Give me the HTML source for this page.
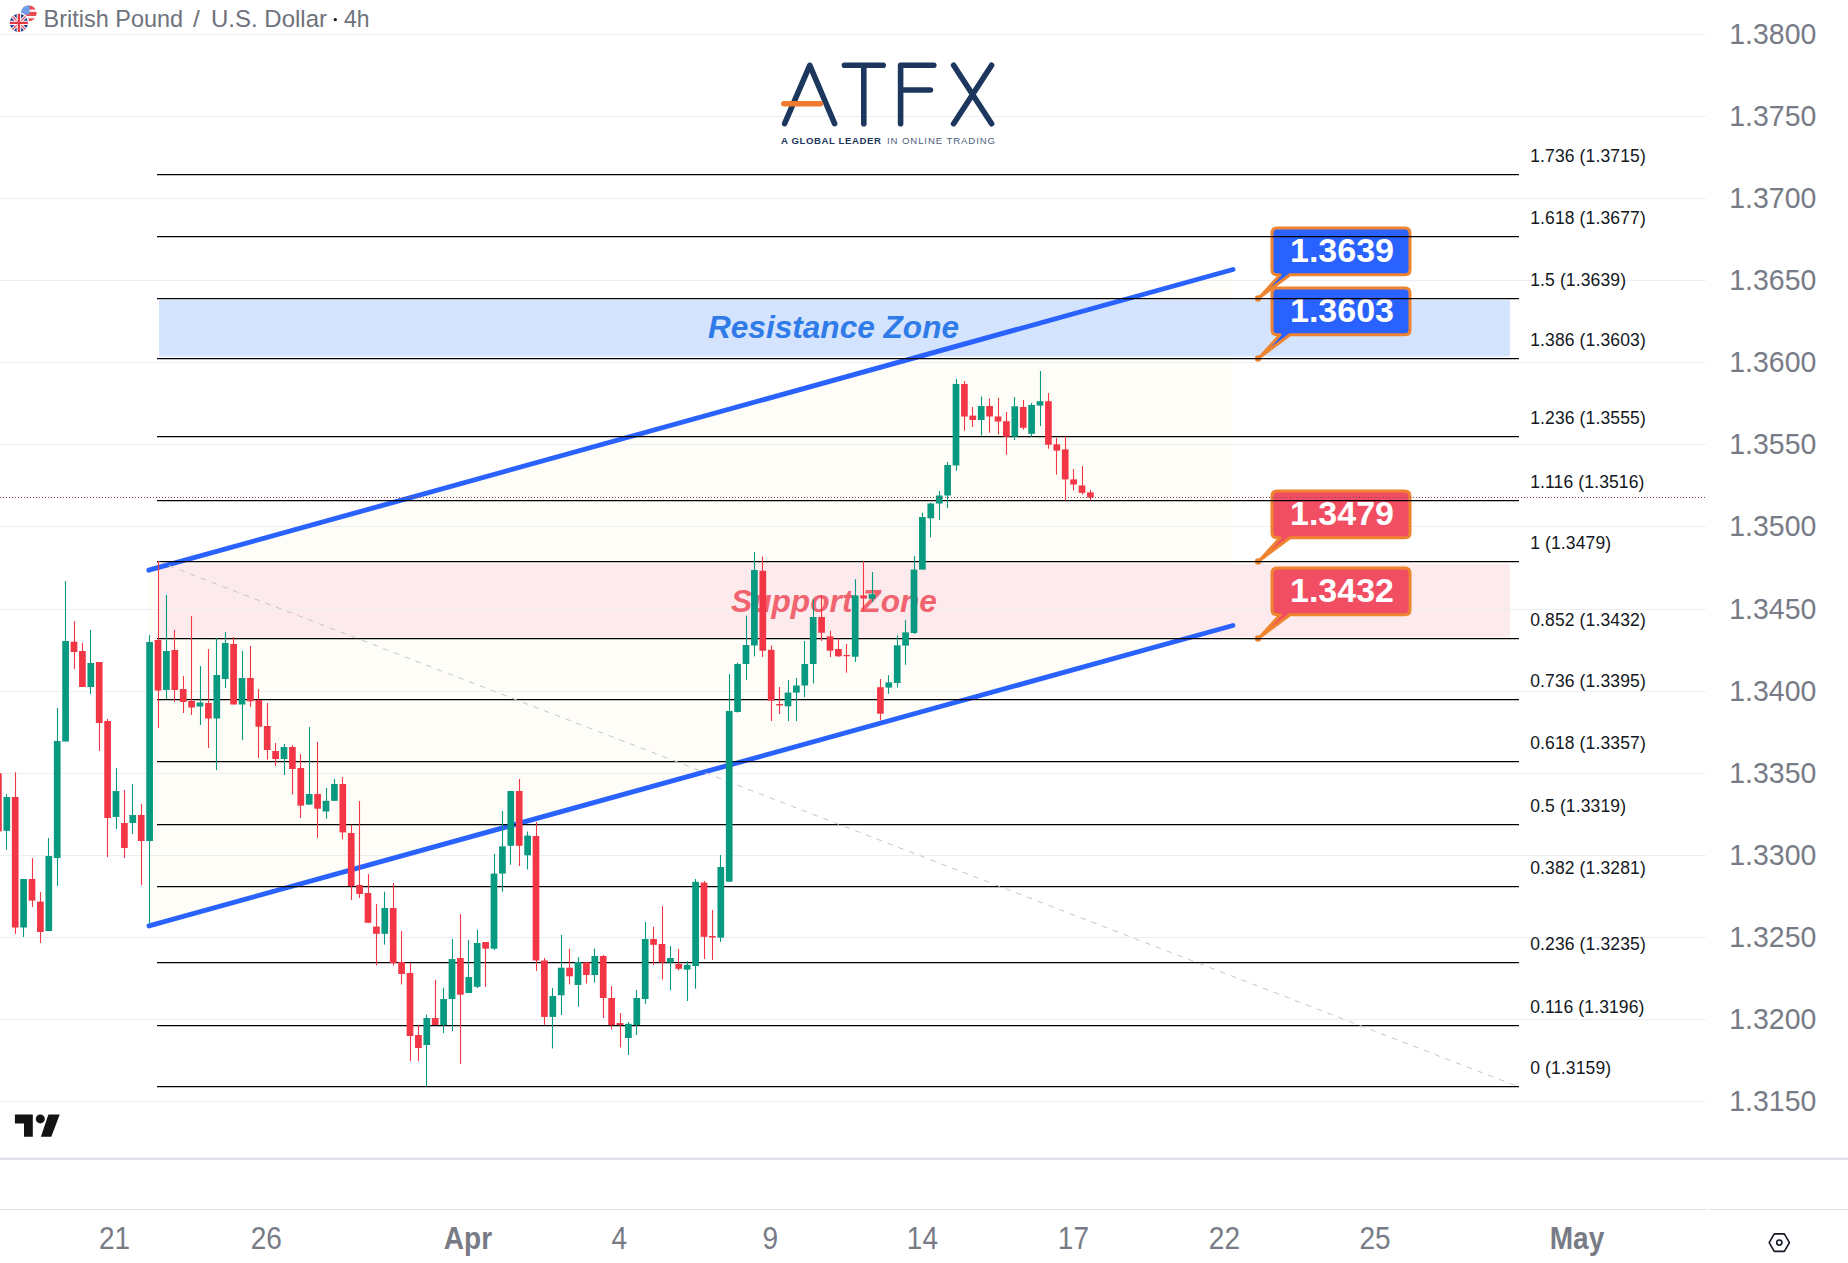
<!DOCTYPE html>
<html><head><meta charset="utf-8"><title>GBPUSD 4h</title>
<style>html,body{margin:0;padding:0;background:#ffffff;}body{width:1848px;height:1263px;overflow:hidden;}svg{display:block;}</style>
</head><body>
<svg width="1848" height="1263" viewBox="0 0 1848 1263">
<rect width="1848" height="1263" fill="#ffffff"/>
<polygon points="148.8,570.2 1232,269.8 1232,625.8 149,925.9" fill="#fffdf7"/>
<rect x="159" y="300" width="1351" height="56.5" fill="#d4e3fe"/>
<rect x="159" y="563.7" width="1351" height="73.6" fill="#fdeaec"/>
<line x1="0" y1="34.5" x2="1706" y2="34.5" stroke="#eceef2" stroke-width="1"/>
<line x1="0" y1="116.5" x2="1706" y2="116.5" stroke="#eceef2" stroke-width="1"/>
<line x1="0" y1="198.5" x2="1706" y2="198.5" stroke="#eceef2" stroke-width="1"/>
<line x1="0" y1="280.5" x2="1706" y2="280.5" stroke="#eceef2" stroke-width="1"/>
<line x1="0" y1="362.5" x2="1706" y2="362.5" stroke="#eceef2" stroke-width="1"/>
<line x1="0" y1="444.5" x2="1706" y2="444.5" stroke="#eceef2" stroke-width="1"/>
<line x1="0" y1="526.5" x2="1706" y2="526.5" stroke="#eceef2" stroke-width="1"/>
<line x1="0" y1="609.5" x2="1706" y2="609.5" stroke="#eceef2" stroke-width="1"/>
<line x1="0" y1="691.5" x2="1706" y2="691.5" stroke="#eceef2" stroke-width="1"/>
<line x1="0" y1="773.5" x2="1706" y2="773.5" stroke="#eceef2" stroke-width="1"/>
<line x1="0" y1="855.5" x2="1706" y2="855.5" stroke="#eceef2" stroke-width="1"/>
<line x1="0" y1="937.5" x2="1706" y2="937.5" stroke="#eceef2" stroke-width="1"/>
<line x1="0" y1="1019.5" x2="1706" y2="1019.5" stroke="#eceef2" stroke-width="1"/>
<line x1="0" y1="1101.5" x2="1706" y2="1101.5" stroke="#eceef2" stroke-width="1"/>
<text x="708" y="337.5" font-family='"Liberation Sans", sans-serif' font-weight="bold" font-style="italic" font-size="32" fill="#2f7be8" textLength="251" lengthAdjust="spacingAndGlyphs">Resistance Zone</text>
<text x="731" y="611.5" font-family='"Liberation Sans", sans-serif' font-weight="bold" font-style="italic" font-size="32" fill="#f0646f" textLength="206" lengthAdjust="spacingAndGlyphs">Support Zone</text>
<path d="M1277,228.0 H1405 Q1410,228.0 1410,233.0 V269.8 Q1410,274.8 1405,274.8 H1290 L1259.5,297.5 L1280,274.8 H1277 Q1272,274.8 1272,269.8 V233.0 Q1272,228.0 1277,228.0 Z" fill="#2962ff" stroke="#ef8430" stroke-width="3" stroke-linejoin="round"/>
<circle cx="1258" cy="298.5" r="3.2" fill="#ef8430"/>
<text x="1342" y="261.6" text-anchor="middle" font-family='"Liberation Sans", sans-serif' font-weight="bold" font-size="33" fill="#ffffff" textLength="104" lengthAdjust="spacingAndGlyphs">1.3639</text>
<path d="M1277,288.0 H1405 Q1410,288.0 1410,293.0 V329.8 Q1410,334.8 1405,334.8 H1290 L1259.5,357.5 L1280,334.8 H1277 Q1272,334.8 1272,329.8 V293.0 Q1272,288.0 1277,288.0 Z" fill="#2962ff" stroke="#ef8430" stroke-width="3" stroke-linejoin="round"/>
<circle cx="1258" cy="358.5" r="3.2" fill="#ef8430"/>
<text x="1342" y="321.6" text-anchor="middle" font-family='"Liberation Sans", sans-serif' font-weight="bold" font-size="33" fill="#ffffff" textLength="104" lengthAdjust="spacingAndGlyphs">1.3603</text>
<path d="M1277,491.0 H1405 Q1410,491.0 1410,496.0 V532.8 Q1410,537.8 1405,537.8 H1290 L1259.5,560.5 L1280,537.8 H1277 Q1272,537.8 1272,532.8 V496.0 Q1272,491.0 1277,491.0 Z" fill="#f24e63" stroke="#ef8430" stroke-width="3" stroke-linejoin="round"/>
<circle cx="1258" cy="561.5" r="3.2" fill="#ef8430"/>
<text x="1342" y="524.6" text-anchor="middle" font-family='"Liberation Sans", sans-serif' font-weight="bold" font-size="33" fill="#ffffff" textLength="104" lengthAdjust="spacingAndGlyphs">1.3479</text>
<path d="M1277,568.0 H1405 Q1410,568.0 1410,573.0 V609.8 Q1410,614.8 1405,614.8 H1290 L1259.5,637.5 L1280,614.8 H1277 Q1272,614.8 1272,609.8 V573.0 Q1272,568.0 1277,568.0 Z" fill="#f24e63" stroke="#ef8430" stroke-width="3" stroke-linejoin="round"/>
<circle cx="1258" cy="638.5" r="3.2" fill="#ef8430"/>
<text x="1342" y="601.6" text-anchor="middle" font-family='"Liberation Sans", sans-serif' font-weight="bold" font-size="33" fill="#ffffff" textLength="104" lengthAdjust="spacingAndGlyphs">1.3432</text>
<line x1="148.8" y1="570.2" x2="1233" y2="269.5" stroke="#2962ff" stroke-width="4.9" stroke-linecap="round"/>
<line x1="149" y1="925.9" x2="1232.9" y2="625.5" stroke="#2962ff" stroke-width="4.9" stroke-linecap="round"/>
<line x1="157" y1="1086.5" x2="1519" y2="1086.5" stroke="#000000" stroke-width="1.25"/>
<line x1="157" y1="1025.5" x2="1519" y2="1025.5" stroke="#000000" stroke-width="1.25"/>
<line x1="157" y1="962.5" x2="1519" y2="962.5" stroke="#000000" stroke-width="1.25"/>
<line x1="157" y1="886.5" x2="1519" y2="886.5" stroke="#000000" stroke-width="1.25"/>
<line x1="157" y1="824.5" x2="1519" y2="824.5" stroke="#000000" stroke-width="1.25"/>
<line x1="157" y1="761.5" x2="1519" y2="761.5" stroke="#000000" stroke-width="1.25"/>
<line x1="157" y1="699.5" x2="1519" y2="699.5" stroke="#000000" stroke-width="1.25"/>
<line x1="157" y1="638.5" x2="1519" y2="638.5" stroke="#000000" stroke-width="1.25"/>
<line x1="157" y1="561.5" x2="1519" y2="561.5" stroke="#000000" stroke-width="1.25"/>
<line x1="157" y1="500.5" x2="1519" y2="500.5" stroke="#000000" stroke-width="1.25"/>
<line x1="157" y1="436.5" x2="1519" y2="436.5" stroke="#000000" stroke-width="1.25"/>
<line x1="157" y1="358.5" x2="1519" y2="358.5" stroke="#000000" stroke-width="1.25"/>
<line x1="157" y1="298.5" x2="1519" y2="298.5" stroke="#000000" stroke-width="1.25"/>
<line x1="157" y1="236.5" x2="1519" y2="236.5" stroke="#000000" stroke-width="1.25"/>
<line x1="157" y1="174.5" x2="1519" y2="174.5" stroke="#000000" stroke-width="1.25"/>
<line x1="158" y1="561.5" x2="1518" y2="1086.5" stroke="#c6c6c8" stroke-width="1" stroke-dasharray="5.5 6"/>
<line x1="-1.50" y1="770.0" x2="-1.50" y2="840.0" stroke="#f23645" stroke-width="1.1"/>
<rect x="-4.95" y="773.3" width="6.7" height="58.2" fill="#f23645"/>
<line x1="6.50" y1="794.2" x2="6.50" y2="849.8" stroke="#089981" stroke-width="1.1"/>
<rect x="3.45" y="797.0" width="6.7" height="33.8" fill="#089981"/>
<line x1="15.50" y1="772.3" x2="15.50" y2="934.0" stroke="#f23645" stroke-width="1.1"/>
<rect x="11.85" y="797.0" width="6.7" height="130.5" fill="#f23645"/>
<line x1="23.50" y1="879.0" x2="23.50" y2="937.0" stroke="#089981" stroke-width="1.1"/>
<rect x="20.25" y="879.0" width="6.7" height="48.5" fill="#089981"/>
<line x1="32.50" y1="858.0" x2="32.50" y2="907.0" stroke="#f23645" stroke-width="1.1"/>
<rect x="28.65" y="879.0" width="6.7" height="21.6" fill="#f23645"/>
<line x1="40.50" y1="892.0" x2="40.50" y2="943.0" stroke="#f23645" stroke-width="1.1"/>
<rect x="37.05" y="901.6" width="6.7" height="30.4" fill="#f23645"/>
<line x1="48.50" y1="838.0" x2="48.50" y2="931.0" stroke="#089981" stroke-width="1.1"/>
<rect x="45.45" y="856.0" width="6.7" height="75.0" fill="#089981"/>
<line x1="57.50" y1="708.0" x2="57.50" y2="886.0" stroke="#089981" stroke-width="1.1"/>
<rect x="53.85" y="741.0" width="6.7" height="117.0" fill="#089981"/>
<line x1="65.50" y1="581.0" x2="65.50" y2="741.5" stroke="#089981" stroke-width="1.1"/>
<rect x="62.25" y="641.0" width="6.7" height="100.5" fill="#089981"/>
<line x1="74.50" y1="621.0" x2="74.50" y2="669.0" stroke="#f23645" stroke-width="1.1"/>
<rect x="70.65" y="641.7" width="6.7" height="10.3" fill="#f23645"/>
<line x1="82.50" y1="643.0" x2="82.50" y2="687.0" stroke="#f23645" stroke-width="1.1"/>
<rect x="79.05" y="651.0" width="6.7" height="36.0" fill="#f23645"/>
<line x1="90.50" y1="630.0" x2="90.50" y2="694.0" stroke="#089981" stroke-width="1.1"/>
<rect x="87.45" y="663.0" width="6.7" height="24.0" fill="#089981"/>
<line x1="99.50" y1="662.0" x2="99.50" y2="751.0" stroke="#f23645" stroke-width="1.1"/>
<rect x="95.85" y="662.0" width="6.7" height="61.0" fill="#f23645"/>
<line x1="107.50" y1="719.0" x2="107.50" y2="857.0" stroke="#f23645" stroke-width="1.1"/>
<rect x="104.25" y="721.0" width="6.7" height="97.0" fill="#f23645"/>
<line x1="116.50" y1="768.0" x2="116.50" y2="829.0" stroke="#089981" stroke-width="1.1"/>
<rect x="112.65" y="791.0" width="6.7" height="26.0" fill="#089981"/>
<line x1="124.50" y1="790.0" x2="124.50" y2="858.0" stroke="#f23645" stroke-width="1.1"/>
<rect x="121.05" y="823.0" width="6.7" height="25.0" fill="#f23645"/>
<line x1="132.50" y1="784.0" x2="132.50" y2="834.0" stroke="#089981" stroke-width="1.1"/>
<rect x="129.45" y="815.0" width="6.7" height="8.0" fill="#089981"/>
<line x1="141.50" y1="804.0" x2="141.50" y2="885.0" stroke="#f23645" stroke-width="1.1"/>
<rect x="137.85" y="815.0" width="6.7" height="26.0" fill="#f23645"/>
<line x1="149.50" y1="635.0" x2="149.50" y2="924.0" stroke="#089981" stroke-width="1.1"/>
<rect x="146.25" y="642.0" width="6.7" height="199.0" fill="#089981"/>
<line x1="158.50" y1="561.0" x2="158.50" y2="728.0" stroke="#f23645" stroke-width="1.1"/>
<rect x="154.65" y="640.0" width="6.7" height="50.5" fill="#f23645"/>
<line x1="166.50" y1="595.0" x2="166.50" y2="699.0" stroke="#089981" stroke-width="1.1"/>
<rect x="163.05" y="651.0" width="6.7" height="39.0" fill="#089981"/>
<line x1="174.50" y1="630.0" x2="174.50" y2="702.0" stroke="#f23645" stroke-width="1.1"/>
<rect x="171.45" y="650.0" width="6.7" height="40.0" fill="#f23645"/>
<line x1="183.50" y1="676.0" x2="183.50" y2="713.0" stroke="#f23645" stroke-width="1.1"/>
<rect x="179.85" y="689.0" width="6.7" height="13.0" fill="#f23645"/>
<line x1="191.50" y1="616.0" x2="191.50" y2="715.0" stroke="#f23645" stroke-width="1.1"/>
<rect x="188.25" y="701.0" width="6.7" height="6.5" fill="#f23645"/>
<line x1="200.50" y1="666.0" x2="200.50" y2="725.0" stroke="#089981" stroke-width="1.1"/>
<rect x="196.65" y="702.5" width="6.7" height="4.0" fill="#089981"/>
<line x1="208.50" y1="649.0" x2="208.50" y2="748.0" stroke="#f23645" stroke-width="1.1"/>
<rect x="205.05" y="703.0" width="6.7" height="15.5" fill="#f23645"/>
<line x1="216.50" y1="638.0" x2="216.50" y2="770.0" stroke="#089981" stroke-width="1.1"/>
<rect x="213.45" y="675.0" width="6.7" height="43.5" fill="#089981"/>
<line x1="225.50" y1="632.0" x2="225.50" y2="688.0" stroke="#089981" stroke-width="1.1"/>
<rect x="221.85" y="643.0" width="6.7" height="36.0" fill="#089981"/>
<line x1="233.50" y1="637.0" x2="233.50" y2="704.5" stroke="#f23645" stroke-width="1.1"/>
<rect x="230.25" y="644.0" width="6.7" height="60.5" fill="#f23645"/>
<line x1="242.50" y1="651.0" x2="242.50" y2="740.0" stroke="#089981" stroke-width="1.1"/>
<rect x="238.65" y="678.0" width="6.7" height="26.5" fill="#089981"/>
<line x1="250.50" y1="646.0" x2="250.50" y2="707.0" stroke="#f23645" stroke-width="1.1"/>
<rect x="247.05" y="678.0" width="6.7" height="23.3" fill="#f23645"/>
<line x1="258.50" y1="689.0" x2="258.50" y2="758.0" stroke="#f23645" stroke-width="1.1"/>
<rect x="255.45" y="700.0" width="6.7" height="26.7" fill="#f23645"/>
<line x1="267.50" y1="703.0" x2="267.50" y2="759.6" stroke="#f23645" stroke-width="1.1"/>
<rect x="263.85" y="726.0" width="6.7" height="24.0" fill="#f23645"/>
<line x1="275.50" y1="743.0" x2="275.50" y2="766.0" stroke="#f23645" stroke-width="1.1"/>
<rect x="272.25" y="751.0" width="6.7" height="8.0" fill="#f23645"/>
<line x1="284.50" y1="744.0" x2="284.50" y2="775.0" stroke="#089981" stroke-width="1.1"/>
<rect x="280.65" y="747.0" width="6.7" height="12.0" fill="#089981"/>
<line x1="292.50" y1="745.0" x2="292.50" y2="794.5" stroke="#f23645" stroke-width="1.1"/>
<rect x="289.05" y="747.0" width="6.7" height="22.0" fill="#f23645"/>
<line x1="300.50" y1="754.0" x2="300.50" y2="818.0" stroke="#f23645" stroke-width="1.1"/>
<rect x="297.45" y="768.0" width="6.7" height="37.6" fill="#f23645"/>
<line x1="309.50" y1="727.0" x2="309.50" y2="804.6" stroke="#089981" stroke-width="1.1"/>
<rect x="305.85" y="794.0" width="6.7" height="10.6" fill="#089981"/>
<line x1="317.50" y1="741.8" x2="317.50" y2="837.8" stroke="#f23645" stroke-width="1.1"/>
<rect x="314.25" y="794.0" width="6.7" height="14.7" fill="#f23645"/>
<line x1="326.50" y1="788.0" x2="326.50" y2="818.8" stroke="#089981" stroke-width="1.1"/>
<rect x="322.65" y="800.8" width="6.7" height="10.7" fill="#089981"/>
<line x1="334.50" y1="779.0" x2="334.50" y2="801.0" stroke="#089981" stroke-width="1.1"/>
<rect x="331.05" y="784.0" width="6.7" height="16.8" fill="#089981"/>
<line x1="342.50" y1="777.0" x2="342.50" y2="839.4" stroke="#f23645" stroke-width="1.1"/>
<rect x="339.45" y="784.0" width="6.7" height="48.4" fill="#f23645"/>
<line x1="351.50" y1="825.0" x2="351.50" y2="900.0" stroke="#f23645" stroke-width="1.1"/>
<rect x="347.85" y="833.0" width="6.7" height="53.0" fill="#f23645"/>
<line x1="359.50" y1="801.0" x2="359.50" y2="898.0" stroke="#f23645" stroke-width="1.1"/>
<rect x="356.25" y="885.0" width="6.7" height="9.0" fill="#f23645"/>
<line x1="368.50" y1="874.0" x2="368.50" y2="922.8" stroke="#f23645" stroke-width="1.1"/>
<rect x="364.65" y="893.0" width="6.7" height="29.8" fill="#f23645"/>
<line x1="376.50" y1="904.0" x2="376.50" y2="965.5" stroke="#f23645" stroke-width="1.1"/>
<rect x="373.05" y="926.6" width="6.7" height="7.2" fill="#f23645"/>
<line x1="384.50" y1="891.7" x2="384.50" y2="944.6" stroke="#089981" stroke-width="1.1"/>
<rect x="381.45" y="908.0" width="6.7" height="25.8" fill="#089981"/>
<line x1="393.50" y1="883.0" x2="393.50" y2="965.5" stroke="#f23645" stroke-width="1.1"/>
<rect x="389.85" y="908.0" width="6.7" height="55.0" fill="#f23645"/>
<line x1="401.50" y1="931.0" x2="401.50" y2="984.5" stroke="#f23645" stroke-width="1.1"/>
<rect x="398.25" y="962.0" width="6.7" height="12.0" fill="#f23645"/>
<line x1="410.50" y1="963.0" x2="410.50" y2="1061.0" stroke="#f23645" stroke-width="1.1"/>
<rect x="406.65" y="973.0" width="6.7" height="63.0" fill="#f23645"/>
<line x1="418.50" y1="1025.0" x2="418.50" y2="1061.0" stroke="#f23645" stroke-width="1.1"/>
<rect x="415.05" y="1035.0" width="6.7" height="13.0" fill="#f23645"/>
<line x1="426.50" y1="1014.6" x2="426.50" y2="1086.6" stroke="#089981" stroke-width="1.1"/>
<rect x="423.45" y="1018.0" width="6.7" height="27.0" fill="#089981"/>
<line x1="435.50" y1="980.0" x2="435.50" y2="1025.0" stroke="#f23645" stroke-width="1.1"/>
<rect x="431.85" y="1018.0" width="6.7" height="7.0" fill="#f23645"/>
<line x1="443.50" y1="987.7" x2="443.50" y2="1033.0" stroke="#089981" stroke-width="1.1"/>
<rect x="440.25" y="999.0" width="6.7" height="26.0" fill="#089981"/>
<line x1="452.50" y1="939.0" x2="452.50" y2="1031.0" stroke="#089981" stroke-width="1.1"/>
<rect x="448.65" y="959.0" width="6.7" height="40.0" fill="#089981"/>
<line x1="460.50" y1="914.0" x2="460.50" y2="1064.0" stroke="#f23645" stroke-width="1.1"/>
<rect x="457.05" y="958.0" width="6.7" height="36.7" fill="#f23645"/>
<line x1="468.50" y1="940.0" x2="468.50" y2="993.0" stroke="#089981" stroke-width="1.1"/>
<rect x="465.45" y="977.0" width="6.7" height="16.0" fill="#089981"/>
<line x1="477.50" y1="929.7" x2="477.50" y2="988.0" stroke="#089981" stroke-width="1.1"/>
<rect x="473.85" y="943.0" width="6.7" height="43.8" fill="#089981"/>
<line x1="485.50" y1="942.0" x2="485.50" y2="986.8" stroke="#f23645" stroke-width="1.1"/>
<rect x="482.25" y="942.0" width="6.7" height="6.7" fill="#f23645"/>
<line x1="494.50" y1="853.7" x2="494.50" y2="950.0" stroke="#089981" stroke-width="1.1"/>
<rect x="490.65" y="873.6" width="6.7" height="75.1" fill="#089981"/>
<line x1="502.50" y1="811.0" x2="502.50" y2="891.7" stroke="#089981" stroke-width="1.1"/>
<rect x="499.05" y="846.4" width="6.7" height="27.2" fill="#089981"/>
<line x1="510.50" y1="791.0" x2="510.50" y2="864.8" stroke="#089981" stroke-width="1.1"/>
<rect x="507.45" y="791.0" width="6.7" height="54.8" fill="#089981"/>
<line x1="519.50" y1="779.0" x2="519.50" y2="866.0" stroke="#f23645" stroke-width="1.1"/>
<rect x="515.85" y="791.0" width="6.7" height="54.8" fill="#f23645"/>
<line x1="527.50" y1="831.5" x2="527.50" y2="869.5" stroke="#089981" stroke-width="1.1"/>
<rect x="524.25" y="835.6" width="6.7" height="19.7" fill="#089981"/>
<line x1="536.50" y1="822.0" x2="536.50" y2="971.0" stroke="#f23645" stroke-width="1.1"/>
<rect x="532.65" y="836.0" width="6.7" height="124.5" fill="#f23645"/>
<line x1="544.50" y1="958.0" x2="544.50" y2="1024.8" stroke="#f23645" stroke-width="1.1"/>
<rect x="541.05" y="960.5" width="6.7" height="56.4" fill="#f23645"/>
<line x1="552.50" y1="988.0" x2="552.50" y2="1048.5" stroke="#089981" stroke-width="1.1"/>
<rect x="549.45" y="996.0" width="6.7" height="20.9" fill="#089981"/>
<line x1="561.50" y1="935.0" x2="561.50" y2="1015.0" stroke="#089981" stroke-width="1.1"/>
<rect x="557.85" y="967.7" width="6.7" height="27.6" fill="#089981"/>
<line x1="569.50" y1="948.7" x2="569.50" y2="984.5" stroke="#f23645" stroke-width="1.1"/>
<rect x="566.25" y="967.7" width="6.7" height="8.6" fill="#f23645"/>
<line x1="578.50" y1="957.0" x2="578.50" y2="1006.7" stroke="#089981" stroke-width="1.1"/>
<rect x="574.65" y="962.0" width="6.7" height="23.0" fill="#089981"/>
<line x1="586.50" y1="962.0" x2="586.50" y2="983.6" stroke="#f23645" stroke-width="1.1"/>
<rect x="583.05" y="962.4" width="6.7" height="12.6" fill="#f23645"/>
<line x1="594.50" y1="948.7" x2="594.50" y2="982.6" stroke="#089981" stroke-width="1.1"/>
<rect x="591.45" y="956.0" width="6.7" height="19.0" fill="#089981"/>
<line x1="603.50" y1="955.0" x2="603.50" y2="1018.0" stroke="#f23645" stroke-width="1.1"/>
<rect x="599.85" y="956.0" width="6.7" height="42.0" fill="#f23645"/>
<line x1="611.50" y1="986.0" x2="611.50" y2="1029.5" stroke="#f23645" stroke-width="1.1"/>
<rect x="608.25" y="998.0" width="6.7" height="27.0" fill="#f23645"/>
<line x1="620.50" y1="1013.0" x2="620.50" y2="1047.5" stroke="#f23645" stroke-width="1.1"/>
<rect x="616.65" y="1023.0" width="6.7" height="2.0" fill="#f23645"/>
<line x1="628.50" y1="1022.0" x2="628.50" y2="1055.0" stroke="#089981" stroke-width="1.1"/>
<rect x="625.05" y="1023.8" width="6.7" height="14.2" fill="#089981"/>
<line x1="636.50" y1="990.0" x2="636.50" y2="1035.0" stroke="#089981" stroke-width="1.1"/>
<rect x="633.45" y="998.0" width="6.7" height="27.0" fill="#089981"/>
<line x1="645.50" y1="922.0" x2="645.50" y2="1003.8" stroke="#089981" stroke-width="1.1"/>
<rect x="641.85" y="939.0" width="6.7" height="60.0" fill="#089981"/>
<line x1="653.50" y1="926.8" x2="653.50" y2="965.0" stroke="#f23645" stroke-width="1.1"/>
<rect x="650.25" y="939.0" width="6.7" height="5.8" fill="#f23645"/>
<line x1="662.50" y1="906.0" x2="662.50" y2="979.6" stroke="#f23645" stroke-width="1.1"/>
<rect x="658.65" y="944.0" width="6.7" height="18.5" fill="#f23645"/>
<line x1="670.50" y1="946.0" x2="670.50" y2="990.4" stroke="#089981" stroke-width="1.1"/>
<rect x="667.05" y="958.0" width="6.7" height="4.5" fill="#089981"/>
<line x1="678.50" y1="948.8" x2="678.50" y2="970.5" stroke="#f23645" stroke-width="1.1"/>
<rect x="675.45" y="964.0" width="6.7" height="4.8" fill="#f23645"/>
<line x1="687.50" y1="961.0" x2="687.50" y2="1001.0" stroke="#089981" stroke-width="1.1"/>
<rect x="683.85" y="964.8" width="6.7" height="4.8" fill="#089981"/>
<line x1="695.50" y1="879.0" x2="695.50" y2="988.7" stroke="#089981" stroke-width="1.1"/>
<rect x="692.25" y="881.8" width="6.7" height="84.2" fill="#089981"/>
<line x1="704.50" y1="881.0" x2="704.50" y2="959.0" stroke="#f23645" stroke-width="1.1"/>
<rect x="700.65" y="882.6" width="6.7" height="54.2" fill="#f23645"/>
<line x1="712.50" y1="910.0" x2="712.50" y2="960.0" stroke="#f23645" stroke-width="1.1"/>
<rect x="709.05" y="936.0" width="6.7" height="1.5" fill="#f23645"/>
<line x1="720.50" y1="855.0" x2="720.50" y2="942.0" stroke="#089981" stroke-width="1.1"/>
<rect x="717.45" y="867.0" width="6.7" height="70.7" fill="#089981"/>
<line x1="729.50" y1="674.0" x2="729.50" y2="881.7" stroke="#089981" stroke-width="1.1"/>
<rect x="725.85" y="711.0" width="6.7" height="170.7" fill="#089981"/>
<line x1="737.50" y1="662.6" x2="737.50" y2="712.6" stroke="#089981" stroke-width="1.1"/>
<rect x="734.25" y="664.0" width="6.7" height="48.0" fill="#089981"/>
<line x1="746.50" y1="615.6" x2="746.50" y2="679.8" stroke="#089981" stroke-width="1.1"/>
<rect x="742.65" y="645.0" width="6.7" height="19.0" fill="#089981"/>
<line x1="754.50" y1="552.0" x2="754.50" y2="656.4" stroke="#089981" stroke-width="1.1"/>
<rect x="751.05" y="570.0" width="6.7" height="75.5" fill="#089981"/>
<line x1="762.50" y1="556.5" x2="762.50" y2="657.0" stroke="#f23645" stroke-width="1.1"/>
<rect x="759.45" y="570.8" width="6.7" height="79.9" fill="#f23645"/>
<line x1="771.50" y1="645.5" x2="771.50" y2="721.0" stroke="#f23645" stroke-width="1.1"/>
<rect x="767.85" y="649.8" width="6.7" height="50.8" fill="#f23645"/>
<line x1="779.50" y1="687.0" x2="779.50" y2="714.0" stroke="#f23645" stroke-width="1.1"/>
<rect x="776.25" y="704.0" width="6.7" height="1.4" fill="#f23645"/>
<line x1="788.50" y1="680.0" x2="788.50" y2="721.0" stroke="#089981" stroke-width="1.1"/>
<rect x="784.65" y="692.6" width="6.7" height="13.7" fill="#089981"/>
<line x1="796.50" y1="678.0" x2="796.50" y2="721.0" stroke="#089981" stroke-width="1.1"/>
<rect x="793.05" y="685.5" width="6.7" height="7.1" fill="#089981"/>
<line x1="804.50" y1="641.0" x2="804.50" y2="697.0" stroke="#089981" stroke-width="1.1"/>
<rect x="801.45" y="664.0" width="6.7" height="21.5" fill="#089981"/>
<line x1="813.50" y1="599.0" x2="813.50" y2="683.5" stroke="#089981" stroke-width="1.1"/>
<rect x="809.85" y="617.0" width="6.7" height="47.0" fill="#089981"/>
<line x1="821.50" y1="595.6" x2="821.50" y2="641.0" stroke="#f23645" stroke-width="1.1"/>
<rect x="818.25" y="617.0" width="6.7" height="15.7" fill="#f23645"/>
<line x1="830.50" y1="630.7" x2="830.50" y2="657.0" stroke="#f23645" stroke-width="1.1"/>
<rect x="826.65" y="636.4" width="6.7" height="14.3" fill="#f23645"/>
<line x1="838.50" y1="638.4" x2="838.50" y2="657.0" stroke="#f23645" stroke-width="1.1"/>
<rect x="835.05" y="649.0" width="6.7" height="7.3" fill="#f23645"/>
<line x1="846.50" y1="644.0" x2="846.50" y2="672.7" stroke="#f23645" stroke-width="1.1"/>
<rect x="843.45" y="655.0" width="6.7" height="1.2" fill="#f23645"/>
<line x1="855.50" y1="579.2" x2="855.50" y2="662.0" stroke="#089981" stroke-width="1.1"/>
<rect x="851.85" y="595.4" width="6.7" height="61.3" fill="#089981"/>
<line x1="863.50" y1="561.0" x2="863.50" y2="611.6" stroke="#f23645" stroke-width="1.1"/>
<rect x="860.25" y="595.4" width="6.7" height="3.1" fill="#f23645"/>
<line x1="872.50" y1="572.1" x2="872.50" y2="602.0" stroke="#089981" stroke-width="1.1"/>
<rect x="868.65" y="594.2" width="6.7" height="4.6" fill="#089981"/>
<line x1="880.50" y1="679.0" x2="880.50" y2="720.4" stroke="#f23645" stroke-width="1.1"/>
<rect x="877.05" y="687.2" width="6.7" height="26.5" fill="#f23645"/>
<line x1="888.50" y1="675.2" x2="888.50" y2="693.8" stroke="#089981" stroke-width="1.1"/>
<rect x="885.45" y="682.4" width="6.7" height="5.2" fill="#089981"/>
<line x1="897.50" y1="635.3" x2="897.50" y2="687.6" stroke="#089981" stroke-width="1.1"/>
<rect x="893.85" y="645.3" width="6.7" height="37.7" fill="#089981"/>
<line x1="905.50" y1="620.2" x2="905.50" y2="664.8" stroke="#089981" stroke-width="1.1"/>
<rect x="902.25" y="632.4" width="6.7" height="13.2" fill="#089981"/>
<line x1="914.50" y1="556.0" x2="914.50" y2="634.0" stroke="#089981" stroke-width="1.1"/>
<rect x="910.65" y="569.6" width="6.7" height="63.4" fill="#089981"/>
<line x1="922.50" y1="512.6" x2="922.50" y2="569.6" stroke="#089981" stroke-width="1.1"/>
<rect x="919.05" y="517.0" width="6.7" height="52.6" fill="#089981"/>
<line x1="930.50" y1="502.6" x2="930.50" y2="537.4" stroke="#089981" stroke-width="1.1"/>
<rect x="927.45" y="503.5" width="6.7" height="14.8" fill="#089981"/>
<line x1="939.50" y1="491.0" x2="939.50" y2="520.0" stroke="#089981" stroke-width="1.1"/>
<rect x="935.85" y="495.5" width="6.7" height="8.0" fill="#089981"/>
<line x1="947.50" y1="462.0" x2="947.50" y2="508.0" stroke="#089981" stroke-width="1.1"/>
<rect x="944.25" y="465.0" width="6.7" height="30.5" fill="#089981"/>
<line x1="956.50" y1="379.0" x2="956.50" y2="470.7" stroke="#089981" stroke-width="1.1"/>
<rect x="952.65" y="384.0" width="6.7" height="81.5" fill="#089981"/>
<line x1="964.50" y1="381.0" x2="964.50" y2="430.7" stroke="#f23645" stroke-width="1.1"/>
<rect x="961.05" y="384.0" width="6.7" height="32.5" fill="#f23645"/>
<line x1="972.50" y1="407.0" x2="972.50" y2="427.0" stroke="#f23645" stroke-width="1.1"/>
<rect x="969.45" y="415.6" width="6.7" height="4.4" fill="#f23645"/>
<line x1="981.50" y1="396.5" x2="981.50" y2="435.6" stroke="#089981" stroke-width="1.1"/>
<rect x="977.85" y="406.0" width="6.7" height="14.0" fill="#089981"/>
<line x1="989.50" y1="398.5" x2="989.50" y2="432.7" stroke="#f23645" stroke-width="1.1"/>
<rect x="986.25" y="406.0" width="6.7" height="10.5" fill="#f23645"/>
<line x1="998.50" y1="397.6" x2="998.50" y2="434.5" stroke="#f23645" stroke-width="1.1"/>
<rect x="994.65" y="416.5" width="6.7" height="5.0" fill="#f23645"/>
<line x1="1006.50" y1="412.0" x2="1006.50" y2="454.8" stroke="#f23645" stroke-width="1.1"/>
<rect x="1003.05" y="421.2" width="6.7" height="15.5" fill="#f23645"/>
<line x1="1014.50" y1="397.0" x2="1014.50" y2="440.0" stroke="#089981" stroke-width="1.1"/>
<rect x="1011.45" y="406.3" width="6.7" height="30.4" fill="#089981"/>
<line x1="1023.50" y1="400.0" x2="1023.50" y2="429.7" stroke="#f23645" stroke-width="1.1"/>
<rect x="1019.85" y="407.0" width="6.7" height="20.8" fill="#f23645"/>
<line x1="1031.50" y1="403.0" x2="1031.50" y2="436.7" stroke="#089981" stroke-width="1.1"/>
<rect x="1028.25" y="405.0" width="6.7" height="28.8" fill="#089981"/>
<line x1="1040.50" y1="371.0" x2="1040.50" y2="426.0" stroke="#089981" stroke-width="1.1"/>
<rect x="1036.65" y="401.2" width="6.7" height="4.4" fill="#089981"/>
<line x1="1048.50" y1="393.0" x2="1048.50" y2="448.7" stroke="#f23645" stroke-width="1.1"/>
<rect x="1045.05" y="401.2" width="6.7" height="43.5" fill="#f23645"/>
<line x1="1056.50" y1="438.0" x2="1056.50" y2="474.7" stroke="#f23645" stroke-width="1.1"/>
<rect x="1053.45" y="444.3" width="6.7" height="6.3" fill="#f23645"/>
<line x1="1065.50" y1="436.0" x2="1065.50" y2="500.4" stroke="#f23645" stroke-width="1.1"/>
<rect x="1061.85" y="449.4" width="6.7" height="30.0" fill="#f23645"/>
<line x1="1073.50" y1="469.0" x2="1073.50" y2="490.5" stroke="#f23645" stroke-width="1.1"/>
<rect x="1070.25" y="479.4" width="6.7" height="5.1" fill="#f23645"/>
<line x1="1082.50" y1="466.0" x2="1082.50" y2="494.6" stroke="#f23645" stroke-width="1.1"/>
<rect x="1078.65" y="485.5" width="6.7" height="7.3" fill="#f23645"/>
<line x1="1090.50" y1="490.0" x2="1090.50" y2="500.4" stroke="#f23645" stroke-width="1.1"/>
<rect x="1087.05" y="492.4" width="6.7" height="5.1" fill="#f23645"/>
<line x1="0" y1="497.5" x2="1706" y2="497.5" stroke="#8e4450" stroke-width="1" stroke-dasharray="1 2"/>
<text x="1530.2" y="1074.0" font-family='"Liberation Sans", sans-serif' font-size="17.5" letter-spacing="0.13" fill="#131722">0 (1.3159)</text>
<text x="1530.2" y="1013.0" font-family='"Liberation Sans", sans-serif' font-size="17.5" letter-spacing="0.13" fill="#131722">0.116 (1.3196)</text>
<text x="1530.2" y="950.0" font-family='"Liberation Sans", sans-serif' font-size="17.5" letter-spacing="0.13" fill="#131722">0.236 (1.3235)</text>
<text x="1530.2" y="874.0" font-family='"Liberation Sans", sans-serif' font-size="17.5" letter-spacing="0.13" fill="#131722">0.382 (1.3281)</text>
<text x="1530.2" y="812.0" font-family='"Liberation Sans", sans-serif' font-size="17.5" letter-spacing="0.13" fill="#131722">0.5 (1.3319)</text>
<text x="1530.2" y="749.0" font-family='"Liberation Sans", sans-serif' font-size="17.5" letter-spacing="0.13" fill="#131722">0.618 (1.3357)</text>
<text x="1530.2" y="687.0" font-family='"Liberation Sans", sans-serif' font-size="17.5" letter-spacing="0.13" fill="#131722">0.736 (1.3395)</text>
<text x="1530.2" y="626.0" font-family='"Liberation Sans", sans-serif' font-size="17.5" letter-spacing="0.13" fill="#131722">0.852 (1.3432)</text>
<text x="1530.2" y="549.0" font-family='"Liberation Sans", sans-serif' font-size="17.5" letter-spacing="0.13" fill="#131722">1 (1.3479)</text>
<text x="1530.2" y="488.0" font-family='"Liberation Sans", sans-serif' font-size="17.5" letter-spacing="0.13" fill="#131722">1.116 (1.3516)</text>
<text x="1530.2" y="424.0" font-family='"Liberation Sans", sans-serif' font-size="17.5" letter-spacing="0.13" fill="#131722">1.236 (1.3555)</text>
<text x="1530.2" y="346.0" font-family='"Liberation Sans", sans-serif' font-size="17.5" letter-spacing="0.13" fill="#131722">1.386 (1.3603)</text>
<text x="1530.2" y="286.0" font-family='"Liberation Sans", sans-serif' font-size="17.5" letter-spacing="0.13" fill="#131722">1.5 (1.3639)</text>
<text x="1530.2" y="224.0" font-family='"Liberation Sans", sans-serif' font-size="17.5" letter-spacing="0.13" fill="#131722">1.618 (1.3677)</text>
<text x="1530.2" y="162.0" font-family='"Liberation Sans", sans-serif' font-size="17.5" letter-spacing="0.13" fill="#131722">1.736 (1.3715)</text>
<text x="1729.3" y="43.9" font-family='"Liberation Sans", sans-serif' font-size="30" fill="#787b86" textLength="87" lengthAdjust="spacingAndGlyphs">1.3800</text>
<text x="1729.3" y="125.9" font-family='"Liberation Sans", sans-serif' font-size="30" fill="#787b86" textLength="87" lengthAdjust="spacingAndGlyphs">1.3750</text>
<text x="1729.3" y="207.9" font-family='"Liberation Sans", sans-serif' font-size="30" fill="#787b86" textLength="87" lengthAdjust="spacingAndGlyphs">1.3700</text>
<text x="1729.3" y="289.9" font-family='"Liberation Sans", sans-serif' font-size="30" fill="#787b86" textLength="87" lengthAdjust="spacingAndGlyphs">1.3650</text>
<text x="1729.3" y="371.9" font-family='"Liberation Sans", sans-serif' font-size="30" fill="#787b86" textLength="87" lengthAdjust="spacingAndGlyphs">1.3600</text>
<text x="1729.3" y="453.9" font-family='"Liberation Sans", sans-serif' font-size="30" fill="#787b86" textLength="87" lengthAdjust="spacingAndGlyphs">1.3550</text>
<text x="1729.3" y="535.9" font-family='"Liberation Sans", sans-serif' font-size="30" fill="#787b86" textLength="87" lengthAdjust="spacingAndGlyphs">1.3500</text>
<text x="1729.3" y="618.9" font-family='"Liberation Sans", sans-serif' font-size="30" fill="#787b86" textLength="87" lengthAdjust="spacingAndGlyphs">1.3450</text>
<text x="1729.3" y="700.9" font-family='"Liberation Sans", sans-serif' font-size="30" fill="#787b86" textLength="87" lengthAdjust="spacingAndGlyphs">1.3400</text>
<text x="1729.3" y="782.9" font-family='"Liberation Sans", sans-serif' font-size="30" fill="#787b86" textLength="87" lengthAdjust="spacingAndGlyphs">1.3350</text>
<text x="1729.3" y="864.9" font-family='"Liberation Sans", sans-serif' font-size="30" fill="#787b86" textLength="87" lengthAdjust="spacingAndGlyphs">1.3300</text>
<text x="1729.3" y="946.9" font-family='"Liberation Sans", sans-serif' font-size="30" fill="#787b86" textLength="87" lengthAdjust="spacingAndGlyphs">1.3250</text>
<text x="1729.3" y="1028.9" font-family='"Liberation Sans", sans-serif' font-size="30" fill="#787b86" textLength="87" lengthAdjust="spacingAndGlyphs">1.3200</text>
<text x="1729.3" y="1110.9" font-family='"Liberation Sans", sans-serif' font-size="30" fill="#787b86" textLength="87" lengthAdjust="spacingAndGlyphs">1.3150</text>
<line x1="0" y1="1158.8" x2="1848" y2="1158.8" stroke="#d9dce3" stroke-width="2"/>
<line x1="0" y1="1209.5" x2="1706" y2="1209.5" stroke="#e3e5ea" stroke-width="1"/>
<line x1="1708" y1="1209.5" x2="1848" y2="1209.5" stroke="#e3e5ea" stroke-width="1"/>
<text transform="translate(114.6,1248.8) scale(0.92,1)" x="0" y="0" text-anchor="middle" font-family='"Liberation Sans", sans-serif' font-weight="normal" font-size="30.5" fill="#787b86">21</text>
<text transform="translate(266.3,1248.8) scale(0.92,1)" x="0" y="0" text-anchor="middle" font-family='"Liberation Sans", sans-serif' font-weight="normal" font-size="30.5" fill="#787b86">26</text>
<text transform="translate(468,1248.8) scale(0.92,1)" x="0" y="0" text-anchor="middle" font-family='"Liberation Sans", sans-serif' font-weight="bold" font-size="30.5" fill="#787b86">Apr</text>
<text transform="translate(619.3,1248.8) scale(0.92,1)" x="0" y="0" text-anchor="middle" font-family='"Liberation Sans", sans-serif' font-weight="normal" font-size="30.5" fill="#787b86">4</text>
<text transform="translate(770.2,1248.8) scale(0.92,1)" x="0" y="0" text-anchor="middle" font-family='"Liberation Sans", sans-serif' font-weight="normal" font-size="30.5" fill="#787b86">9</text>
<text transform="translate(922.4,1248.8) scale(0.92,1)" x="0" y="0" text-anchor="middle" font-family='"Liberation Sans", sans-serif' font-weight="normal" font-size="30.5" fill="#787b86">14</text>
<text transform="translate(1073.4,1248.8) scale(0.92,1)" x="0" y="0" text-anchor="middle" font-family='"Liberation Sans", sans-serif' font-weight="normal" font-size="30.5" fill="#787b86">17</text>
<text transform="translate(1224.4,1248.8) scale(0.92,1)" x="0" y="0" text-anchor="middle" font-family='"Liberation Sans", sans-serif' font-weight="normal" font-size="30.5" fill="#787b86">22</text>
<text transform="translate(1375,1248.8) scale(0.92,1)" x="0" y="0" text-anchor="middle" font-family='"Liberation Sans", sans-serif' font-weight="normal" font-size="30.5" fill="#787b86">25</text>
<text transform="translate(1577,1248.8) scale(0.92,1)" x="0" y="0" text-anchor="middle" font-family='"Liberation Sans", sans-serif' font-weight="bold" font-size="30.5" fill="#787b86">May</text>
<polygon points="1789.40,1242.60 1784.35,1251.35 1774.25,1251.35 1769.20,1242.60 1774.25,1233.85 1784.35,1233.85" fill="none" stroke="#131722" stroke-width="1.6" stroke-linejoin="round"/>
<circle cx="1779.3" cy="1242.6" r="2.6" fill="none" stroke="#131722" stroke-width="1.6"/>
<path d="M14.9,1114.4 H32.8 V1136.8 H24 V1123.4 H14.9 Z" fill="#131313"/>
<circle cx="40.3" cy="1118.9" r="4.5" fill="#131313"/>
<path d="M48.4,1114.4 H59.7 L51.3,1136.8 H40.9 Z" fill="#131313"/>
<line x1="0" y1="34.5" x2="1706" y2="34.5" stroke="#eceef2" stroke-width="1"/>
<g>
<clipPath id="usc"><circle cx="28.7" cy="13.3" r="7.9"/></clipPath>
<g clip-path="url(#usc)">
<rect x="20" y="4" width="18" height="19" fill="#ffffff"/>
<rect x="20" y="4" width="18" height="5.6" fill="#ea4a52"/>
<rect x="20" y="11.8" width="18" height="4.2" fill="#ea4a52"/>
<rect x="20" y="18.3" width="18" height="3.6" fill="#ea4a52"/>
<rect x="20" y="4" width="9.6" height="10.4" fill="#6f9ee9"/>
</g>
<circle cx="18.9" cy="22.9" r="10.4" fill="#ffffff"/>
<clipPath id="ukc"><circle cx="18.9" cy="22.9" r="9.1"/></clipPath>
<g clip-path="url(#ukc)">
<rect x="9" y="13" width="20" height="20" fill="#1f3f8f"/>
<path d="M9,13 L29,33 M29,13 L9,33" stroke="#ffffff" stroke-width="3.2"/>
<path d="M9,13 L29,33 M29,13 L9,33" stroke="#e63946" stroke-width="1.2"/>
<path d="M18.9,13 V33 M9,22.9 H29" stroke="#ffffff" stroke-width="4.4"/>
<path d="M18.9,13 V33 M9,22.9 H29" stroke="#e63946" stroke-width="2.4"/>
</g>
</g>
<text x="43.6" y="26.6" font-family='"Liberation Sans", sans-serif' font-size="24.5" fill="#6f727c" textLength="139.5" lengthAdjust="spacingAndGlyphs">British Pound</text>
<text x="193" y="26.6" font-family='"Liberation Sans", sans-serif' font-size="24.5" fill="#6f727c">/</text>
<text x="211" y="26.6" font-family='"Liberation Sans", sans-serif' font-size="24.5" fill="#6f727c" textLength="116" lengthAdjust="spacingAndGlyphs">U.S. Dollar</text>
<circle cx="335.3" cy="19.6" r="1.7" fill="#131722"/>
<text x="344" y="26.6" font-family='"Liberation Sans", sans-serif' font-size="24.5" fill="#6f727c" textLength="25.5" lengthAdjust="spacingAndGlyphs">4h</text>
<g fill="none" stroke="#1c365e" stroke-width="5.6" stroke-linecap="round" stroke-linejoin="round">
<path d="M784.6,123.7 L809.8,65.3 L834.6,123.7"/>
<path d="M844.4,65.3 H883.2 M863.8,65.3 V123.7"/>
<path d="M900.6,123.7 V65.3 H933.8 M900.6,90 H930.4"/>
<path d="M953.6,65.3 L991.6,123.7 M991.6,65.3 L953.6,123.7"/>
</g>
<line x1="783.8" y1="103.7" x2="820.6" y2="103.7" stroke="#ef7a30" stroke-width="5.4" stroke-linecap="round"/>
<text x="781" y="143.5" font-family='"Liberation Sans", sans-serif' font-size="9.6" font-weight="bold" fill="#1c365e" textLength="100" lengthAdjust="spacing">A GLOBAL LEADER</text>
<text x="887" y="143.5" font-family='"Liberation Sans", sans-serif' font-size="9.6" fill="#4a5d7e" textLength="108" lengthAdjust="spacing">IN ONLINE TRADING</text>
</svg>
</body></html>
